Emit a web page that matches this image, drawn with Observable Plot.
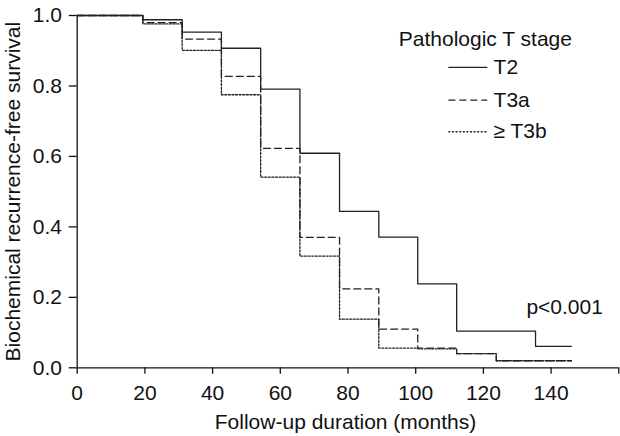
<!DOCTYPE html>
<html>
<head>
<meta charset="utf-8">
<script src="https://cdn.jsdelivr.net/npm/d3@7"></script>
<script src="https://cdn.jsdelivr.net/npm/@observablehq/plot@0.6"></script>
<style>
  html, body { margin: 0; padding: 0; background: #fff; }
  #chart svg { display: block; }
</style>
</head>
<body>
<div id="chart"></div>
<script>
// Time points (months) where survival steps occur; last = end of follow-up
const months = [0, 19.4, 31, 42.6, 54.2, 65.8, 77.5, 89.1, 100.6, 112.1, 123.8, 135.4, 146];
const survT2  = [1.0, 0.988, 0.953, 0.907, 0.791, 0.609, 0.444, 0.371, 0.238, 0.104, 0.104, 0.061, 0.061];
const survT3a = [1.0, 0.980, 0.933, 0.827, 0.623, 0.370, 0.224, 0.110, 0.056, 0.040, 0.020, 0.020, 0.020];
const survT3b = [1.0, 0.976, 0.901, 0.775, 0.541, 0.317, 0.138, 0.056, 0.054, 0.040, 0.020, 0.020, 0.020];

const seriesNames = ["T2", "T3a", "\u2265 T3b"];
const seriesDash = ["none", "7,4", "2,1.6"];
const xTicks = [0, 20, 40, 60, 80, 100, 120, 140, 160];
const yTicks = [0, 0.2, 0.4, 0.6, 0.8, 1.0];
const xLabel = "Follow-up duration (months)";
const yLabel = "Biochemical recurrence-free survival";
const legendTitle = "Pathologic T stage";
const pText = "p<0.001";

// legend placement (data coordinates)
const legendTitlePos = {x: 95.0, y: 0.933};
const legendLineX = [109.8, 121.3];
const legendTextX = 123.0;
const legendYs = [0.853, 0.760, 0.670];
const pPos = {x: 132.7, y: 0.171};

const allSurv = [survT2, survT3a, survT3b];
const data = seriesNames.map((name, i) =>
  months.map((m, j) => ({stage: name, month: m, surv: allSurv[i][j]}))
);

const font = "'Liberation Sans', Arial, Helvetica, sans-serif";
const fs = 21;
const ink = "#111";

const marks = [
  Plot.ruleY([0], {stroke: ink, strokeWidth: 1.3}),
  Plot.ruleX([0], {stroke: ink, strokeWidth: 1.3}),
  Plot.axisX({ticks: xTicks, tickSize: 6.5, tickPadding: 10.5, fontSize: fs, label: null,
    tickFormat: d => d === 160 ? "" : String(d), stroke: ink, strokeWidth: 1.3, fill: ink}),
  Plot.axisY({ticks: yTicks, tickSize: 8, tickPadding: 7.3, fontSize: fs, label: null,
    tickFormat: d3.format(".1f"), stroke: ink, strokeWidth: 1.3, fill: ink}),
  ...data.map((d, i) => Plot.line(d, {
    x: "month", y: "surv", curve: "step-after",
    stroke: "#222", strokeWidth: 1.3, strokeDasharray: seriesDash[i]
  })),
  // axis titles
  Plot.text([xLabel], {text: d => d, frameAnchor: "bottom", lineAnchor: "middle", textAnchor: "middle",
    dy: 54.3, dx: -2.5, fontSize: fs, fill: ink}),
  Plot.text([yLabel], {text: d => d, frameAnchor: "left", lineAnchor: "middle", textAnchor: "middle",
    rotate: -90, dx: -63.5, fontSize: fs, fill: ink}),
  // legend
  Plot.text([legendTitle], {text: d => d, x: legendTitlePos.x, y: legendTitlePos.y, textAnchor: "start", lineAnchor: "middle", fontSize: fs, fill: ink}),
  ...seriesNames.map((name, i) => Plot.ruleY([legendYs[i]], {
    x1: legendLineX[0], x2: legendLineX[1], stroke: "#222", strokeWidth: 1.3, strokeDasharray: seriesDash[i]
  })),
  Plot.text(seriesNames, {text: d => d, x: legendTextX, y: (d, i) => legendYs[i], textAnchor: "start", lineAnchor: "middle", fontSize: fs, fill: ink}),
  Plot.text([pText], {text: d => d, x: pPos.x, y: pPos.y, textAnchor: "start", lineAnchor: "middle", fontSize: fs, fill: ink})
];

const chart = Plot.plot({
  width: 620,
  height: 436,
  marginLeft: 76.7,
  marginRight: 1.7,
  marginTop: 15,
  marginBottom: 68.7,
  x: {domain: [0, 160]},
  y: {domain: [0, 1]},
  style: {fontFamily: font, fontSize: fs + "px", color: ink, background: "#fff", overflow: "visible"},
  marks
});
document.getElementById("chart").appendChild(chart);
</script>
</body>
</html>
